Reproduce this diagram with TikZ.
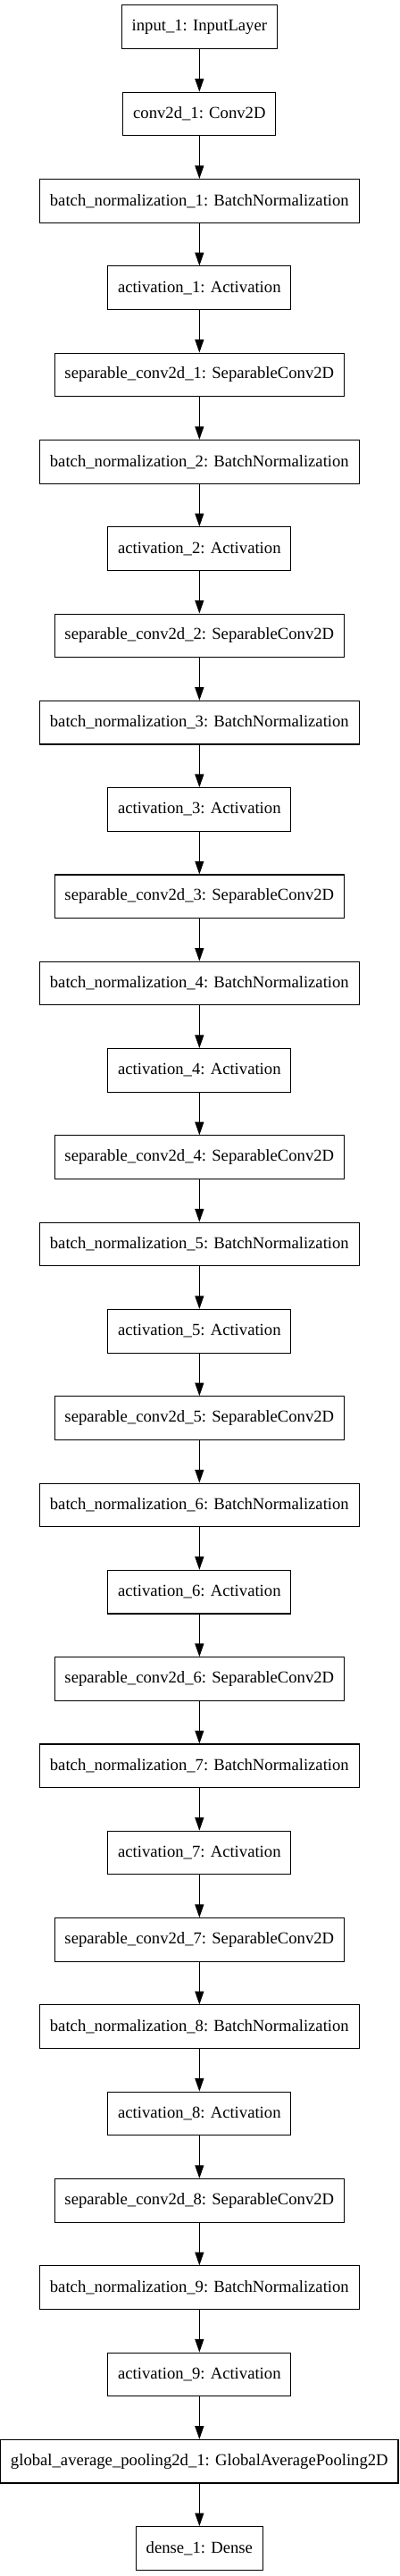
\documentclass[tikz,border=0pt]{standalone}
\usepackage{fontspec}
\setmainfont{Liberation Serif}
\usetikzlibrary{arrows.meta}
\begin{document}
\begin{tikzpicture}[x=1pt,y=1pt,
  layer/.style={draw=black, line width=0.8pt, fill=white, minimum height=36.45pt, inner xsep=8.5pt, inner ysep=0pt, font=\fontsize{14pt}{16pt}\selectfont, anchor=center},
  conn/.style={-{Triangle[length=11pt,width=7.5pt]}, line width=0.8pt, black}]
\useasboundingbox (0,0) rectangle (335.25,-2162.25);
\def\cx{167.5}
\foreach \i/\name/\lab in {
 0/n0/input\_1: InputLayer,
 1/n1/conv2d\_1: Conv2D,
 2/n2/batch\_normalization\_1: BatchNormalization,
 3/n3/activation\_1: Activation,
 4/n4/separable\_conv2d\_1: SeparableConv2D,
 5/n5/batch\_normalization\_2: BatchNormalization,
 6/n6/activation\_2: Activation,
 7/n7/separable\_conv2d\_2: SeparableConv2D,
 8/n8/batch\_normalization\_3: BatchNormalization,
 9/n9/activation\_3: Activation,
 10/n10/separable\_conv2d\_3: SeparableConv2D,
 11/n11/batch\_normalization\_4: BatchNormalization,
 12/n12/activation\_4: Activation,
 13/n13/separable\_conv2d\_4: SeparableConv2D,
 14/n14/batch\_normalization\_5: BatchNormalization,
 15/n15/activation\_5: Activation,
 16/n16/separable\_conv2d\_5: SeparableConv2D,
 17/n17/batch\_normalization\_6: BatchNormalization,
 18/n18/activation\_6: Activation,
 19/n19/separable\_conv2d\_6: SeparableConv2D,
 20/n20/batch\_normalization\_7: BatchNormalization,
 21/n21/activation\_7: Activation,
 22/n22/separable\_conv2d\_7: SeparableConv2D,
 23/n23/batch\_normalization\_8: BatchNormalization,
 24/n24/activation\_8: Activation,
 25/n25/separable\_conv2d\_8: SeparableConv2D,
 26/n26/batch\_normalization\_9: BatchNormalization,
 27/n27/activation\_9: Activation,
 28/n28/global\_average\_pooling2d\_1: GlobalAveragePooling2D,
 29/n29/dense\_1: Dense}
{
  \node[layer] (\name) at (\cx, {-(22.7+72.975*\i)}) {\lab};
}
\foreach \i [evaluate=\i as \j using int(\i+1)] in {0,...,28}{
  \draw[conn] (n\i.south) -- (n\j.north);
}
\end{tikzpicture}
\end{document}
